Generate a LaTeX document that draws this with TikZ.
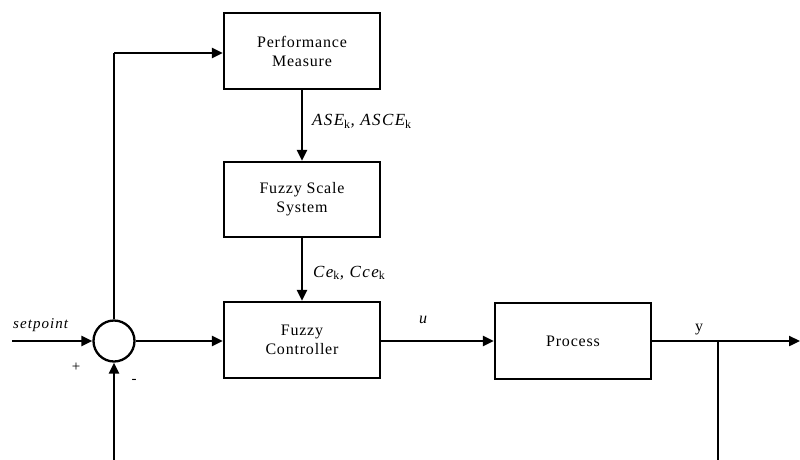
\documentclass[tikz,border=0pt]{standalone}
\usepackage{fontspec}
\setmainfont{Liberation Serif}
\usetikzlibrary{arrows.meta}
\newcommand{\sub}[1]{\textsubscript{\upshape #1}}
\begin{document}
\begin{tikzpicture}[x=1pt,y=-1pt,
  lw/.style={line width=2.3pt},
  blk/.style={draw,line width=2.3pt,minimum width=156pt,minimum height=76pt,align=center,inner sep=0pt,
     font=\fontsize{16}{19}\selectfont\addfontfeature{LetterSpace=5}},
  conn/.style={line width=2.3pt,-{Triangle[length=11pt,width=10pt]}},
  lbl/.style={font=\fontsize{15}{17}\selectfont\addfontfeature{LetterSpace=5},inner sep=0pt},
  mlbl/.style={inner sep=0pt,anchor=base west,font=\fontsize{17}{19}\selectfont\itshape\addfontfeature{LetterSpace=8}}]
\useasboundingbox (0,0) rectangle (800,459);
\node[blk] (pm) at (302,51) {Performance\\Measure};
\node[blk,minimum height=75pt] (fss) at (302,199.5) {Fuzzy Scale\\System};
\node[blk] (fc) at (302,340) {Fuzzy\\Controller};
\node[blk] (proc) at (573,341) {Process};
\node[draw,circle,line width=2.3pt,minimum size=41pt,inner sep=0pt] (sum) at (114,341) {};
\coordinate (in) at (12,341);
\coordinate (out) at (800,341);
\coordinate (j) at (718,341);
\coordinate (fbR) at (718,460);
\coordinate (fbL) at (114,460);
\coordinate (up) at (114,53);
\draw[conn] (in) -- (sum.west);
\draw[conn] (sum.east) -- (fc.west |- sum.east);
\draw[lw] (sum.north) -- (up);
\draw[conn] (up) -- (pm.west |- up);
\draw[conn] (pm.south) -- (fss.north);
\draw[conn] (fss.south) -- (fc.north);
\draw[conn] (fc.east |- proc.west) -- (proc.west);
\draw[conn] (proc.east) -- (out);
\draw[lw] (j) -- (fbR);
\draw[conn] (fbL) -- (sum.south);
\node[lbl,anchor=base west,font=\fontsize{15}{17}\selectfont\itshape\addfontfeature{LetterSpace=7}] (sp) at (13,328) {setpoint};
\node[lbl] (plus) at (76,367) {+};
\node[lbl] (minus) at (134,381) {-};
\node[mlbl] (l1) at (312,125.5) {ASE\sub{k}, ASCE\sub{k}};
\node[mlbl] (l2) at (313,277) {Ce\sub{k}, Cce\sub{k}};
\node[lbl,anchor=base,font=\fontsize{16}{18}\selectfont\itshape] (u) at (423,323) {u};
\node[lbl,anchor=base,font=\fontsize{16}{18}\selectfont] (y) at (699,331) {y};
\end{tikzpicture}
\end{document}
